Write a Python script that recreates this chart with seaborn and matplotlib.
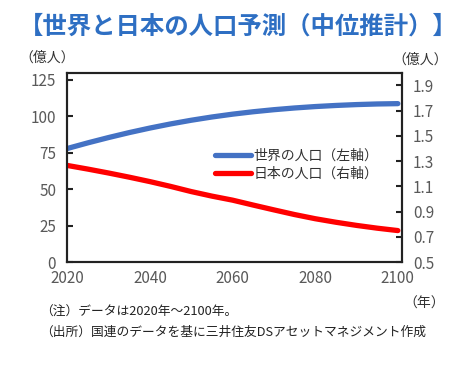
import matplotlib
matplotlib.use("Agg")
import matplotlib.pyplot as plt
import seaborn as sns
import pandas as pd

years = [2020, 2025, 2030, 2035, 2040, 2045, 2050, 2055, 2060,
         2065, 2070, 2075, 2080, 2085, 2090, 2095, 2100]
world = [77.95, 81.84, 85.48, 88.88, 91.99, 94.82, 97.35, 99.58, 101.52,
         103.18, 104.59, 105.77, 106.74, 107.50, 108.10, 108.52, 108.75]
japan = [1.265, 1.236, 1.205, 1.172, 1.137, 1.099, 1.058, 1.022, 0.990,
         0.951, 0.913, 0.876, 0.843, 0.815, 0.790, 0.768, 0.749]
world_label = "世界の人口（左軸）"
japan_label = "日本の人口（右軸）"
left_ticks = [0, 25, 50, 75, 100, 125]
right_ticks = [0.5, 0.7, 0.9, 1.1, 1.3, 1.5, 1.7, 1.9]
x_ticks = [2020, 2040, 2060, 2080, 2100]

sns.set_style("white")
plt.rcParams['font.family'] = ['Noto Sans CJK JP', 'DejaVu Sans']

df = pd.DataFrame({"year": years, "world": world, "japan": japan})

fig = plt.figure(figsize=(4.70, 3.79), dpi=100)
ax = fig.add_axes([0.1432, 0.3087, 0.8553 - 0.1432, 0.8082 - 0.3087])
ax2 = ax.twinx()

sns.lineplot(data=df, x="year", y="world", ax=ax, color="#4472c4", lw=3.8,
             label=world_label, legend=False)
sns.lineplot(data=df, x="year", y="japan", ax=ax2, color="#ff0000", lw=3.8,
             label=japan_label, legend=False)

ax.set_xlim(2020, 2101)
ax.set_ylim(0, 130)
ax2.set_ylim(0.5, 2.0)
ax.set_xticks(x_ticks)
ax.set_yticks(left_ticks)
ax2.set_yticks(right_ticks)
ax2.set_yticklabels([f"{v:.1f}" for v in right_ticks])
ax.set_xlabel("")
ax.set_ylabel("")
ax2.set_ylabel("")

tick_color = "#595959"
for a in (ax, ax2):
    for s in a.spines.values():
        s.set_color("#222222")
        s.set_linewidth(1.5)
        s.set_visible(True)
ax.tick_params(axis="both", direction="in", length=4, width=1.5, color="#222222",
               labelsize=11, labelcolor=tick_color, pad=6)
ax.tick_params(axis="y", pad=8)
ax2.tick_params(axis="y", direction="in", length=4, width=1.5, color="#222222",
                labelsize=11, labelcolor=tick_color, pad=8)
ax.grid(False)
ax2.grid(False)

h1, l1 = ax.get_legend_handles_labels()
h2, l2 = ax2.get_legend_handles_labels()
fig.legend(h1 + h2, l1 + l2, loc="upper left", bbox_to_anchor=(0.457, 0.607),
           bbox_transform=fig.transFigure, frameon=False, fontsize=10,
           handlelength=2.6, handletextpad=0.2, labelspacing=0.25,
           borderpad=0, borderaxespad=0, labelcolor="#333333")

fig.text(0.04, 0.93, "【世界と日本の人口予測（中位推計）】", color="#2e6fc3",
         fontsize=17.6, fontweight="bold", va="center", ha="left")
fig.text(0.042, 0.847, "（億人）", color="#333333", fontsize=10, va="center")
fig.text(0.835, 0.842, "（億人）", color="#333333", fontsize=10, va="center")
fig.text(0.858, 0.20, "（年）", color="#333333", fontsize=10, va="center")
fig.text(0.085, 0.175, "（注）データは2020年～2100年。", color="#222222",
         fontsize=9.2, va="center")
fig.text(0.085, 0.122, "（出所）国連のデータを基に三井住友DSアセットマネジメント作成",
         color="#222222", fontsize=9.2, va="center")

fig.savefig("out.png", dpi=100)
